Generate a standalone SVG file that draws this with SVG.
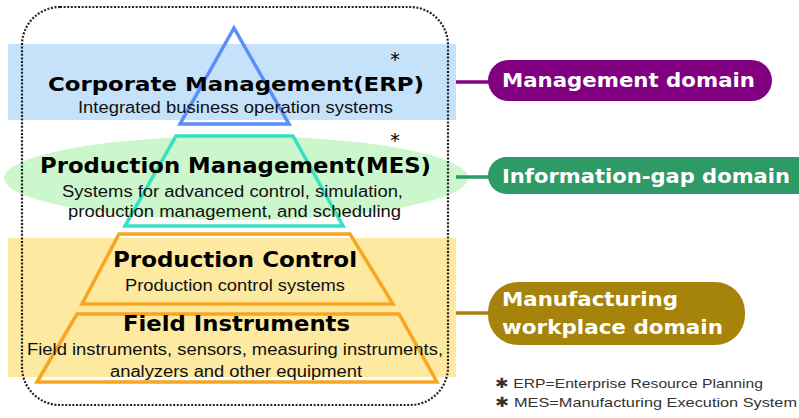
<svg xmlns="http://www.w3.org/2000/svg" width="799" height="418" viewBox="0 0 799 418">
<style>
.t{font-family:"DejaVu Sans","Liberation Sans",sans-serif;font-weight:bold;fill:#000}
.s{font-family:"Liberation Sans",Arial,sans-serif;fill:#111;font-size:16px}
.p{font-family:"DejaVu Sans","Liberation Sans",sans-serif;font-weight:bold;fill:#fff;font-size:19px}
.f{font-family:"Liberation Sans",Arial,sans-serif;fill:#333;font-size:13.5px}
.a{font-family:"DejaVu Sans",sans-serif;fill:#000;font-size:19px;text-anchor:middle}
.con{stroke-width:3.5;fill:none}
.py{fill:none;stroke-width:3.5;stroke-linejoin:miter}
</style>
<rect width="799" height="418" fill="#fff"/>
<g id="backgrounds">
<rect x="8" y="44" width="448" height="76" fill="#c6e2fb"/>
<ellipse cx="236" cy="178" rx="232" ry="42" fill="#ccf7cc"/>
<rect x="8" y="238" width="448" height="139" fill="#fde9a0"/>
</g>
<g id="connectors">
<line class="con" x1="456" y1="82" x2="492" y2="82" stroke="#800080"/>
<line class="con" x1="456" y1="177" x2="492" y2="177" stroke="#2e9a66"/>
<line class="con" x1="456" y1="313" x2="492" y2="313" stroke="#a6840c"/>
</g>
<g id="erp">
<polygon class="py" points="234,28 289,124 180,124" stroke="#5b8ef8"/>
<text class="t" x="48" y="91" font-size="20" textLength="376" lengthAdjust="spacingAndGlyphs">Corporate Management(ERP)</text>
<text class="s" x="78" y="113" textLength="315" lengthAdjust="spacingAndGlyphs">Integrated business operation systems</text>
<text class="a" x="395" y="66">*</text>
</g>
<g id="mes">
<polygon class="py" points="176,136 293,136 343,226 125,226" stroke="#33e2c2"/>
<text class="t" x="40" y="173" font-size="21" textLength="391" lengthAdjust="spacingAndGlyphs">Production Management(MES)</text>
<text class="s" x="62" y="197" textLength="341" lengthAdjust="spacingAndGlyphs">Systems for advanced control, simulation,</text>
<text class="s" x="68" y="217" textLength="333" lengthAdjust="spacingAndGlyphs">production management, and scheduling</text>
<text class="a" x="395" y="147">*</text>
</g>
<g id="production-control">
<polygon class="py" points="119,234 350,234 393,304 82,304" stroke="#f8a520"/>
<text class="t" x="113" y="267" font-size="21" textLength="244" lengthAdjust="spacingAndGlyphs">Production Control</text>
<text class="s" x="125" y="291" textLength="220" lengthAdjust="spacingAndGlyphs">Production control systems</text>
</g>
<g id="field-instruments">
<polygon class="py" points="77,314 399,314 437,382 37,382" stroke="#f8a520"/>
<text class="t" x="123" y="331" font-size="21" textLength="227" lengthAdjust="spacingAndGlyphs">Field Instruments</text>
<text class="s" x="27" y="355" textLength="416" lengthAdjust="spacingAndGlyphs">Field instruments, sensors, measuring instruments,</text>
<text class="s" x="110" y="377" textLength="252" lengthAdjust="spacingAndGlyphs">analyzers and other equipment</text>
</g>
<g id="border">
<rect x="22" y="7" width="426" height="398" rx="38" ry="38" fill="none" stroke="#222" stroke-width="2.2" stroke-dasharray="2 1.6"/>
</g>
<g id="management-domain">
<rect x="488" y="60" width="284" height="41" rx="20.5" fill="#800080"/>
<text class="p" x="502" y="87" textLength="253" lengthAdjust="spacingAndGlyphs">Management domain</text>
</g>
<g id="information-gap-domain">
<rect x="488" y="157" width="330" height="37" rx="18.5" fill="#2e9a66"/>
<text class="p" x="502" y="183" textLength="288" lengthAdjust="spacingAndGlyphs">Information-gap domain</text>
</g>
<g id="manufacturing-domain">
<rect x="488" y="282" width="257" height="63" rx="30" fill="#a6840c"/>
<text class="p" x="502" y="306" textLength="176" lengthAdjust="spacingAndGlyphs">Manufacturing</text>
<text class="p" x="502" y="334" textLength="221" lengthAdjust="spacingAndGlyphs">workplace domain</text>
</g>
<g id="footnotes">
<text class="f" x="495" y="388" textLength="268" lengthAdjust="spacingAndGlyphs">✱ ERP=Enterprise Resource Planning</text>
<text class="f" x="495" y="407" textLength="302" lengthAdjust="spacingAndGlyphs">✱ MES=Manufacturing Execution System</text>
</g>
</svg>
